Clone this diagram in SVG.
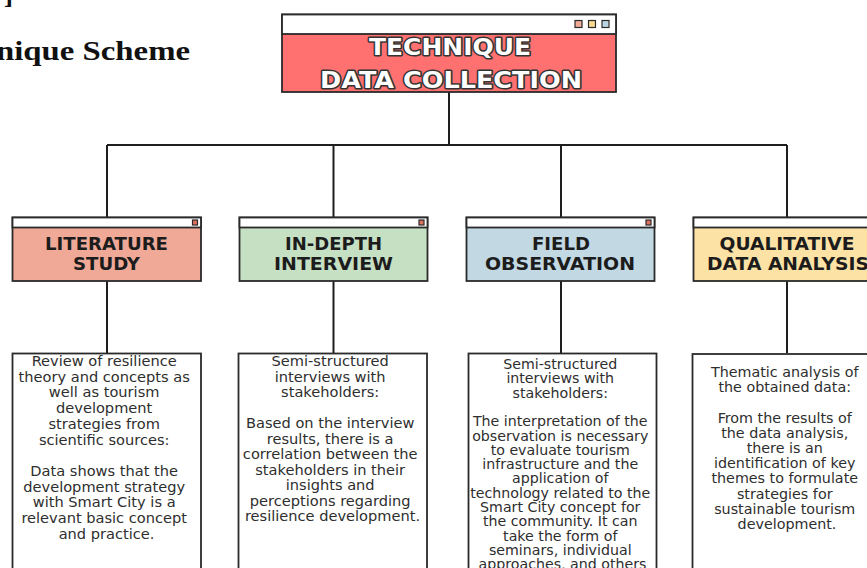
<svg xmlns="http://www.w3.org/2000/svg" width="867" height="568" viewBox="0 0 867 568">
<style>
.bg{fill:#ffffff}
.box{stroke:#2a2a2a;stroke-width:1.8}
.hdr{fill:#ffffff;stroke:#2a2a2a;stroke-width:1.8}
.conn{stroke:#1e1e1e;stroke-width:2;fill:none}
.title{font-family:"DejaVu Sans","Liberation Sans",sans-serif;font-weight:700;font-size:23px;fill:#ffffff;stroke:#333;stroke-width:3;paint-order:stroke;stroke-linejoin:round;text-anchor:middle}
.lbl{font-family:"DejaVu Sans","Liberation Sans",sans-serif;font-weight:700;font-size:17px;fill:#1c1c1c;text-anchor:middle}
.body{font-family:"DejaVu Sans","Liberation Sans",sans-serif;font-size:14.6px;fill:#2e2e2e;text-anchor:middle}
.body3{font-family:"DejaVu Sans","Liberation Sans",sans-serif;font-size:14.2px;fill:#2e2e2e;text-anchor:middle}
.body4{font-family:"DejaVu Sans","Liberation Sans",sans-serif;font-size:14.3px;fill:#2e2e2e;text-anchor:middle}
.sq{stroke:#2a2a2a;stroke-width:1.2}
.head{font-family:"Liberation Serif","Times New Roman",serif;font-weight:700;font-size:27px;fill:#111}
</style>
<rect class="bg" x="0" y="0" width="867" height="568"/>

<text class="head" x="4" y="3">]</text>
<text class="head" x="-4" y="60" textLength="194" lengthAdjust="spacingAndGlyphs">nique Scheme</text>

<g id="connectors">
  <path class="conn" d="M449,92 V145 M107,145 H787 M107,145 V217 M333.5,145 V217 M561,145 V217 M787,145 V217"/>
  <path class="conn" d="M107,281 V353 M333.5,281 V353 M561,281 V353 M787,281 V353"/>
</g>

<g id="technique">
  <rect class="box" x="282" y="14.5" width="334" height="77.5" fill="#ff7070"/>
  <rect class="hdr" x="282" y="14.5" width="334" height="19.5"/>
  <rect class="sq" x="575" y="20.5" width="7" height="7" fill="#f0a898"/>
  <rect class="sq" x="588.5" y="20.5" width="7" height="7" fill="#f9d88f"/>
  <rect class="sq" x="602" y="20.5" width="7" height="7" fill="#bcd5e2"/>
  <text class="title" x="450" y="55" textLength="162" lengthAdjust="spacingAndGlyphs">TECHNIQUE</text>
  <text class="title" x="451" y="88" textLength="262" lengthAdjust="spacingAndGlyphs">DATA COLLECTION</text>
</g>

<g id="literature">
  <rect class="box" x="12.5" y="217.5" width="188.5" height="63.5" fill="#efa996"/>
  <rect class="hdr" x="12.5" y="217.5" width="188.5" height="10"/>
  <rect class="sq" x="192.5" y="220" width="5" height="5" fill="#e07060"/>
  <text class="lbl" x="106.5" y="250" textLength="123" lengthAdjust="spacingAndGlyphs">LITERATURE</text>
  <text class="lbl" x="106.5" y="269.5" textLength="67" lengthAdjust="spacingAndGlyphs">STUDY</text>
</g>

<g id="interview">
  <rect class="box" x="239.5" y="217.5" width="188" height="63.5" fill="#c6e0c4"/>
  <rect class="hdr" x="239.5" y="217.5" width="188" height="10"/>
  <rect class="sq" x="419" y="220" width="5" height="5" fill="#e07060"/>
  <text class="lbl" x="333.5" y="250" textLength="97" lengthAdjust="spacingAndGlyphs">IN-DEPTH</text>
  <text class="lbl" x="333.5" y="269.5" textLength="119" lengthAdjust="spacingAndGlyphs">INTERVIEW</text>
</g>

<g id="observation">
  <rect class="box" x="466.5" y="217.5" width="188" height="63.5" fill="#c2d8e3"/>
  <rect class="hdr" x="466.5" y="217.5" width="188" height="10"/>
  <rect class="sq" x="646" y="220" width="5" height="5" fill="#e07060"/>
  <text class="lbl" x="561" y="250" textLength="58" lengthAdjust="spacingAndGlyphs">FIELD</text>
  <text class="lbl" x="560" y="269.5" textLength="150" lengthAdjust="spacingAndGlyphs">OBSERVATION</text>
</g>

<g id="analysis">
  <rect class="box" x="693.5" y="217.5" width="188" height="63.5" fill="#fde2a5"/>
  <rect class="hdr" x="693.5" y="217.5" width="188" height="10"/>
  <text class="lbl" x="787" y="250" textLength="135" lengthAdjust="spacingAndGlyphs">QUALITATIVE</text>
  <text class="lbl" x="788" y="269.5" textLength="162" lengthAdjust="spacingAndGlyphs">DATA ANALYSIS</text>
</g>

<g id="literature-text">
  <rect class="box" x="12.5" y="353.5" width="188.5" height="240" fill="#ffffff"/>
  <text class="body">
    <tspan x="106.5" y="366">Review of resilience</tspan>
    <tspan x="106.5" y="381.7">theory and concepts as</tspan>
    <tspan x="106.5" y="397.4">well as tourism</tspan>
    <tspan x="106.5" y="413.1">development</tspan>
    <tspan x="106.5" y="428.8">strategies from</tspan>
    <tspan x="106.5" y="444.5">scientific sources:</tspan>
    <tspan x="106.5" y="476">Data shows that the</tspan>
    <tspan x="106.5" y="491.7">development strategy</tspan>
    <tspan x="106.5" y="507.4">with Smart City is a</tspan>
    <tspan x="106.5" y="523.1">relevant basic concept</tspan>
    <tspan x="106.5" y="538.8">and practice.</tspan>
  </text>
</g>

<g id="interview-text">
  <rect class="box" x="238.5" y="353.5" width="188.5" height="240" fill="#ffffff"/>
  <text class="body">
    <tspan x="332.5" y="366">Semi-structured</tspan>
    <tspan x="332.5" y="381.5">interviews with</tspan>
    <tspan x="332.5" y="397">stakeholders:</tspan>
    <tspan x="332.5" y="428">Based on the interview</tspan>
    <tspan x="332.5" y="443.5">results, there is a</tspan>
    <tspan x="332.5" y="459">correlation between the</tspan>
    <tspan x="332.5" y="474.5">stakeholders in their</tspan>
    <tspan x="332.5" y="490">insights and</tspan>
    <tspan x="332.5" y="505.5">perceptions regarding</tspan>
    <tspan x="332.5" y="521">resilience development.</tspan>
  </text>
</g>

<g id="observation-text">
  <rect class="box" x="468.5" y="353.5" width="188" height="240" fill="#ffffff"/>
  <text class="body3">
    <tspan x="562.5" y="369">Semi-structured</tspan>
    <tspan x="562.5" y="383.3">interviews with</tspan>
    <tspan x="562.5" y="397.6">stakeholders:</tspan>
    <tspan x="562.5" y="426.2">The interpretation of the</tspan>
    <tspan x="562.5" y="440.5">observation is necessary</tspan>
    <tspan x="562.5" y="454.8">to evaluate tourism</tspan>
    <tspan x="562.5" y="469.1">infrastructure and the</tspan>
    <tspan x="562.5" y="483.4">application of</tspan>
    <tspan x="562.5" y="497.7">technology related to the</tspan>
    <tspan x="562.5" y="512">Smart City concept for</tspan>
    <tspan x="562.5" y="526.3">the community. It can</tspan>
    <tspan x="562.5" y="540.6">take the form of</tspan>
    <tspan x="562.5" y="554.9">seminars, individual</tspan>
    <tspan x="562.5" y="569.2">approaches, and others</tspan>
  </text>
</g>

<g id="analysis-text">
  <rect class="box" x="692.5" y="354" width="188.5" height="240" fill="#ffffff"/>
  <text class="body4">
    <tspan x="787" y="377">Thematic analysis of</tspan>
    <tspan x="787" y="392.2">the obtained data:</tspan>
    <tspan x="787" y="422.6">From the results of</tspan>
    <tspan x="787" y="437.8">the data analysis,</tspan>
    <tspan x="787" y="453">there is an</tspan>
    <tspan x="787" y="468.2">identification of key</tspan>
    <tspan x="787" y="483.4">themes to formulate</tspan>
    <tspan x="787" y="498.6">strategies for</tspan>
    <tspan x="787" y="513.8">sustainable tourism</tspan>
    <tspan x="787" y="529">development.</tspan>
  </text>
</g>
</svg>
